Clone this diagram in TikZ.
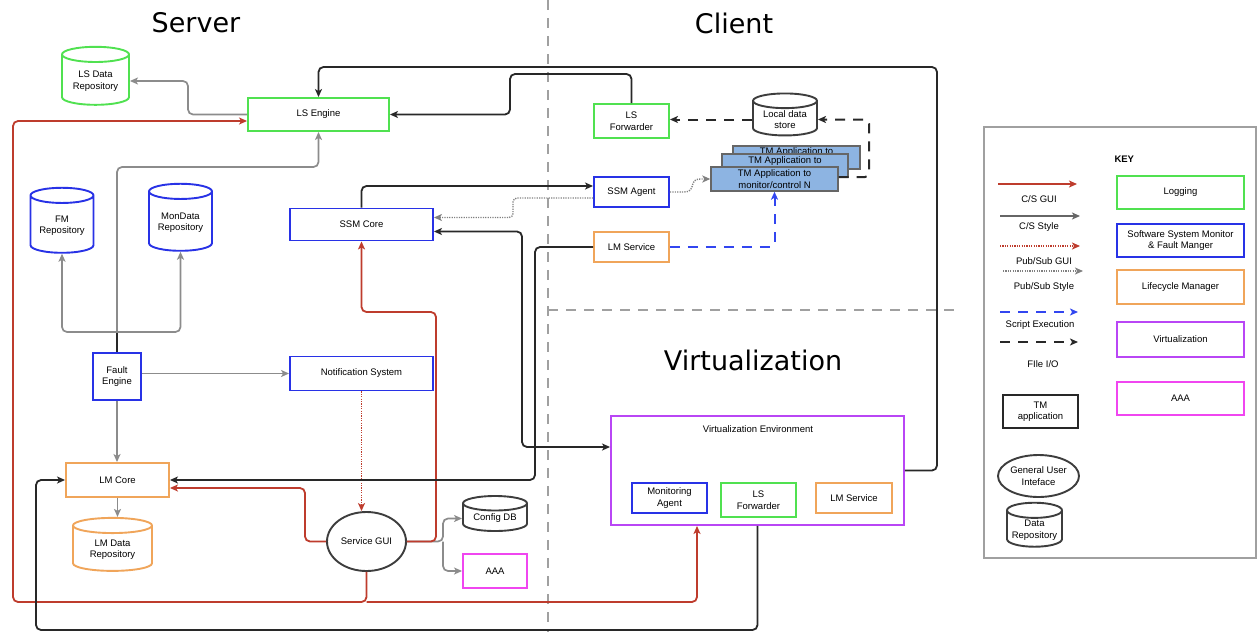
\documentclass[tikz,border=0pt]{standalone}
\usepackage{fontspec}
\setmainfont{Liberation Sans}
\newfontfamily\titlefont{DejaVu Sans}
\usetikzlibrary{arrows.meta,shapes.geometric}
\definecolor{cgreen}{RGB}{80,225,80}
\definecolor{cblue}{RGB}{40,50,230}
\definecolor{corange}{RGB}{240,165,90}
\definecolor{cpurple}{RGB}{185,70,245}
\definecolor{cmag}{RGB}{240,70,240}
\definecolor{cred}{RGB}{190,60,45}
\definecolor{cgray}{RGB}{140,140,140}
\definecolor{cdark}{RGB}{40,40,40}
\definecolor{cdiv}{RGB}{160,160,160}
\definecolor{tmfill}{RGB}{141,180,226}
\definecolor{cblued}{RGB}{50,70,240}
\begin{document}
\begin{tikzpicture}[x=1pt,y=-1pt,
  nf/.style={font=\fontsize{9.5}{11.5}\selectfont},
  box/.style={nf, draw, rectangle, line width=1.9pt, inner sep=1pt, align=center},
  lg/.style={box, draw=cgreen},
  sm/.style={box, draw=cblue},
  lmb/.style={box, draw=corange},
  vz/.style={box, draw=cpurple},
  aaab/.style={box, draw=cmag},
  db/.style={nf, cylinder, shape border rotate=90, aspect=0.32, draw, line width=1.9pt, inner sep=1pt, align=center},
  tmbox/.style={rectangle, draw=gray!80!black, line width=1.4pt, fill=tmfill, inner sep=0pt},
  tip/.style={-{Stealth[length=8pt,width=7pt,inset=2pt]}},
  csg/.style={draw=cgray, line width=1.7pt, rounded corners=5pt, tip},
  csd/.style={draw=cdark, line width=1.8pt, rounded corners=5pt, tip},
  gui/.style={draw=cred, line width=1.8pt, rounded corners=5pt, tip},
  psgui/.style={draw=cred, line width=1.4pt, dash pattern=on 1.2pt off 1.2pt, tip},
  psst/.style={draw=gray, line width=1.4pt, dash pattern=on 1.2pt off 1.2pt, rounded corners=4pt, tip},
  script/.style={draw=cblued, line width=2pt, dash pattern=on 10pt off 8pt, rounded corners=4pt, tip},
  fileio/.style={draw=cdark, line width=2pt, dash pattern=on 10pt off 8pt, rounded corners=4pt, tip},
  divider/.style={draw=cdiv, line width=1.7pt, dash pattern=on 10pt off 8pt}
]
\useasboundingbox (0,0) rectangle (1257,632);
\fill[white] (0,0) rectangle (1257,632);

% titles
\node[font=\titlefont\fontsize{27}{30}\selectfont] (tserver) at (196,23) {Server};
\node[font=\titlefont\fontsize{27}{30}\selectfont] (tclient) at (734,23) {Client};
\node[font=\titlefont\fontsize{27}{30}\selectfont] (tvirt) at (753,360) {Virtualization};

% dividers
\draw[divider] (548,0) -- (548,632);
\draw[divider] (548,310) -- (960,310);

% server nodes
\node[db, draw=cgreen, minimum width=67pt, minimum height=58pt] (lsdata) at (95.5,81) {LS Data\\Repository};
\node[lg, minimum width=141pt, minimum height=33pt] (lseng) at (318.5,114.5) {LS Engine};
\node[db, draw=cblue, minimum width=63pt, minimum height=65pt] (fmrep) at (62,225.5) {FM\\Repository};
\node[db, draw=cblue, minimum width=63pt, minimum height=67pt] (monrep) at (180.5,222.5) {MonData\\Repository};
\node[sm, minimum width=143pt, minimum height=32pt] (ssmcore) at (361.5,224.5) {SSM Core};
\node[sm, minimum width=48pt, minimum height=47pt] (fault) at (117,376.5) {Fault\\Engine};
\node[sm, minimum width=143pt, minimum height=34pt] (notif) at (361.5,373.5) {Notification System};
\node[lmb, minimum width=103pt, minimum height=34pt] (lmcore) at (117.5,480) {LM Core};
\node[db, draw=corange, minimum width=79pt, minimum height=53pt] (lmdata) at (112.5,549.5) {LM Data\\Repository};
\node[nf, ellipse, draw=cdark!90, line width=1.9pt, minimum width=79pt, minimum height=59pt, inner sep=0pt] (sgui) at (366.5,541.5) {Service GUI};
\node[db, draw=cdark!90, minimum width=64pt, minimum height=35pt] (configdb) at (495,518.5) {Config DB};
\node[aaab, minimum width=64pt, minimum height=34pt] (aaa) at (495,571) {AAA};

% client nodes
\node[lg, minimum width=75pt, minimum height=34pt] (lsfwd) at (631.5,121) {LS\\Forwarder};
\node[sm, minimum width=75pt, minimum height=30pt] (ssmagent) at (631.5,192) {SSM Agent};
\node[lmb, minimum width=75pt, minimum height=30pt] (lmsvc) at (631.5,247) {LM Service};
\node[db, draw=cdark!90, minimum width=64pt, minimum height=42pt] (localdb) at (785,119.5) {Local data\\store};
\node[tmbox, minimum width=127pt, minimum height=23pt] (tm3) at (796.5,157.5) {};
\node[nf] (tm3t) at (796.5,152) {TM Application to};
\node[tmbox, minimum width=126pt, minimum height=23pt] (tm2) at (785,165.5) {};
\node[nf] (tm2t) at (785,161) {TM Application to};
\node[tmbox, nf, align=center, minimum width=127pt, minimum height=24pt] (tm1) at (774.5,179) {TM Application to\\monitor/control N};

% virtualization nodes
\node[vz, minimum width=293pt, minimum height=109pt] (venv) at (757.5,470.5) {};
\node[nf] (venvt) at (758,429) {Virtualization Environment};
\node[sm, minimum width=75pt, minimum height=30pt] (magent) at (669.5,498) {Monitoring\\Agent};
\node[lg, minimum width=75pt, minimum height=34pt] (vlsfwd) at (758.5,500) {LS\\Forwarder};
\node[lmb, minimum width=76pt, minimum height=30pt] (vlmsvc) at (854,498) {LM Service};

% ---------- connectors ----------
\draw[csg] (lseng.west) -| (188,95) |- (lsdata.east);
\draw[gui] (sgui.south) -- (366.5,602) -- (13,602) -- (13,121) -- ([yshift=-6.5pt]lseng.west);
\draw[gui] (366.5,602) -- (697,602) -- ([xshift=-60.5pt]venv.south);
\draw[draw=cdark, line width=1.8pt] (fault.north) -- (117,332);
\draw[csg] (117,332) -| (fmrep.south);
\draw[csg] (117,332) -| (monrep.south);
\draw[csg] (117,332) -- (117,167) -| (lseng.south);
\draw[csg] (fault.east |- notif.west) -- (notif.west);
\draw[csg] (fault.south) -- (fault.south |- lmcore.north);
\draw[csg] (lmcore.south) -- (lmcore.south |- lmdata.north);
\draw[psgui] (notif.south) -- (notif.south |- sgui.north);
\draw[csg] (sgui.east) -- (443,541.5) |- (configdb.west);
\draw[csg] (443,541.5) |- (aaa.west);
\draw[gui] (sgui.west) -| (305,510) |- ([yshift=-8pt]lmcore.east);
\draw[gui] (sgui.east) -- (436,541.5) -- (436,312) -- (361.5,312) -- (ssmcore.south);
\draw[csd] (lmsvc.west) -- (535,247) -- (535,480) -- (lmcore.east);
\draw[csd, {Stealth[length=8pt,width=7pt,inset=2pt]}-{Stealth[length=8pt,width=7pt,inset=2pt]}] ([yshift=-7pt]ssmcore.east) -- (522,231.5) -- (522,447) -- ([yshift=23.5pt]venv.west);
\draw[csd] (ssmcore.north) -- (361.5,186) -- ([yshift=6pt]ssmagent.west);
\draw[psst] ([yshift=-6pt]ssmagent.west) -- (513,198) -- (513,217.5) -- ([yshift=7pt]ssmcore.east);
\draw[psst, rounded corners=0pt] (ssmagent.east) -- (684,192) .. controls (697,192) and (688,179) .. (700,179) -- (tm1.west);
\draw[script] (lmsvc.east) -| (tm1.south);
\draw[fileio] (localdb.west) -- (lsfwd.east |- localdb.west);
\draw[fileio] ([yshift=2pt]tm1.east) -- (869,177) -- (869,119.5) -- (localdb.east);
\draw[csd] (lsfwd.north) |- (510,74) |- (lseng.east);
\draw[csd] (venv.east) -- (937,470.5) -- (937,67) -| (lseng.north);
\draw[csd] (venv.south) -- (757.5,630) -- (36,630) |- (lmcore.west);

% ---------- key ----------
\draw[draw=cdiv, line width=1.2pt] (984,127) rectangle (1256,558);
\node[font=\bfseries\fontsize{9.5}{11}\selectfont, anchor=west] (keyt) at (1111,159) {KEY};
\draw[gui] (998,184) -- (1077,184);
\node[nf] (k1) at (1039,199) {C/S GUI};
\draw[csd, draw=gray!80!black] (1000,216) -- (1080,216);
\node[nf] (k2) at (1039,227) {C/S Style};
\draw[psgui] (1000,246) -- (1080,246);
\node[nf] (k3) at (1044,261) {Pub/Sub GUI};
\draw[psst] (1003,271) -- (1083,271);
\node[nf] (k4) at (1044,287) {Pub/Sub Style};
\draw[script] (1000,312) -- (1078,312);
\node[nf] (k5) at (1040,325) {Script Execution};
\draw[fileio] (1000,342) -- (1078,342);
\node[nf] (k6) at (1043,364) {FIle I/O};
\node[box, draw=cdark, minimum width=75pt, minimum height=33pt] (ktm) at (1040.5,411.5) {TM\\application};
\node[nf, ellipse, draw=cdark!90, line width=1.9pt, align=center, minimum width=81pt, minimum height=42pt, inner sep=0pt] (kgui) at (1038.5,476) {General User\\Inteface};
\node[db, draw=cdark!90, minimum width=55pt, minimum height=44pt] (kdb) at (1034.5,530) {Data\\Repository};
\node[lg, minimum width=127pt, minimum height=33pt] (klog) at (1180.5,192.5) {Logging};
\node[sm, minimum width=127pt, minimum height=33pt] (kssm) at (1180.5,240.5) {Software System Monitor\\\& Fault Manger};
\node[lmb, minimum width=127pt, minimum height=34pt] (klm) at (1180.5,287) {Lifecycle Manager};
\node[vz, minimum width=127pt, minimum height=35pt] (kvz) at (1180.5,339.5) {Virtualization};
\node[aaab, minimum width=127pt, minimum height=33pt] (kaaa) at (1180.5,398.5) {AAA};
\end{tikzpicture}
\end{document}
